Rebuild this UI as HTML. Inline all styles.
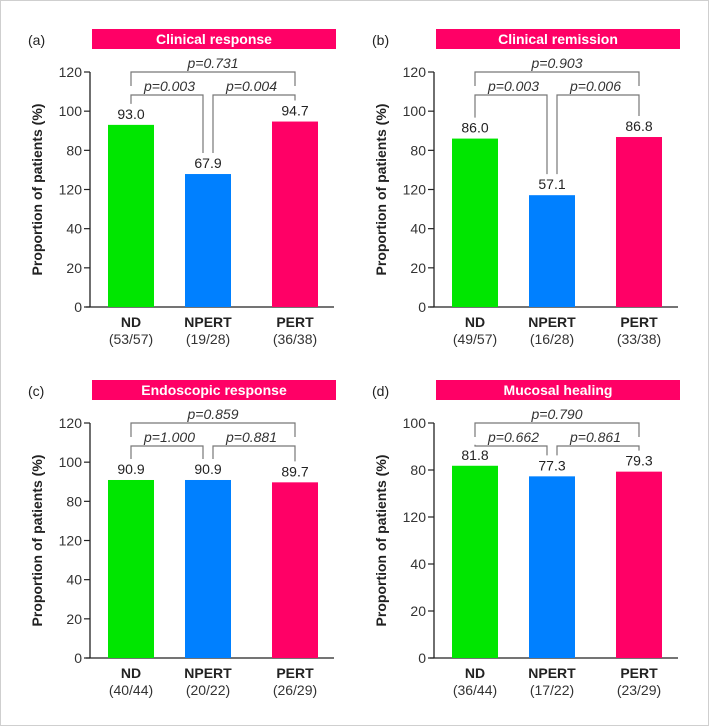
<!DOCTYPE html>
<html><head><meta charset="utf-8"><style>
body{margin:0;background:#fff;}
svg{display:block;font-family:"Liberation Sans","Noto Sans CJK JP",sans-serif;}
</style></head><body>
<svg id="fig" width="709" height="726">
<rect x="0.5" y="0.5" width="708" height="725" fill="#fff" stroke="#cfcfcf"/>
</svg>
<script>
const categories=["ND","NPERT","PERT"];
const colors=["#00e600","#0080ff","#ff0066"];
const titles=["Clinical response","Clinical remission","Endoscopic response","Mucosal healing"];
const panelLetters=["(a)","(b)","(c)","(d)"];
const valuesA=[93.0,67.9,94.7];
const valuesB=[86.0,57.1,86.8];
const valuesC=[90.9,90.9,89.7];
const valuesD=[81.8,77.3,79.3];
const countsA=["(53/57)","(19/28)","(36/38)"];
const countsB=["(49/57)","(16/28)","(33/38)"];
const countsC=["(40/44)","(20/22)","(26/29)"];
const countsD=["(36/44)","(17/22)","(23/29)"];
const pA=["p=0.003","p=0.004","p=0.731"];
const pB=["p=0.003","p=0.006","p=0.903"];
const pC=["p=1.000","p=0.881","p=0.859"];
const pD=["p=0.662","p=0.861","p=0.790"];
const ticks120=["0","20","40","120","80","100","120"];
const ticksD=["0","20","40","120","80","100"];
const yMaxes=[120,120,120,100];

const NS="http://www.w3.org/2000/svg";
const svg=document.getElementById('fig');
function mk(tag,attrs,parent,text){const e=document.createElementNS(NS,tag);for(const k in attrs)e.setAttribute(k,attrs[k]);if(text!==undefined)e.textContent=text;(parent||svg).appendChild(e);return e;}

const panels=[
 {ox:0,oy:0,vals:valuesA,counts:countsA,p:pA,ticks:ticks120},
 {ox:344,oy:0,vals:valuesB,counts:countsB,p:pB,ticks:ticks120},
 {ox:0,oy:351,vals:valuesC,counts:countsC,p:pC,ticks:ticks120},
 {ox:344,oy:351,vals:valuesD,counts:countsD,p:pD,ticks:ticksD}
];
panels.forEach((P,i)=>{
 const g=mk('g',{transform:`translate(${P.ox},${P.oy})`});
 
 
 const yMax=yMaxes[i];
 const y0=307,y1=72+ (i===3?0:0);
 const top=i===3?72:72;
 const y=v=>y0-(v/yMax)*(y0-top);
 const axX=90;
 const barX=[108,185,272],bw=46;
 const cx=k=>barX[k]+bw/2;
 const L=mk('text',{x:28,y:45,'font-size':14,fill:'#222'},g,panelLetters[i]);
 
 
 const tb=mk('rect',{x:92,y:29,width:244,height:20,fill:'#ff0066'},g);
 
 
 const tt=mk('text',{x:214,y:44,'font-size':14,'font-weight':'bold',fill:'#fff','text-anchor':'middle'},g,titles[i]);
 
 
 // axes
 const ya=mk('line',{x1:axX,y1:top,x2:axX,y2:y0,stroke:'#222','stroke-width':1.3},g);
 
 
 const xa=mk('line',{x1:axX-4,y1:y0,x2:334,y2:y0,stroke:'#222','stroke-width':1.3},g);
 
 
 P.ticks.forEach((t,k)=>{
  const v=k*20;const yy=y(v);
  const tl=mk('line',{x1:axX-6,y1:yy,x2:axX,y2:yy,stroke:'#222','stroke-width':1.2},g);
  
  
  const tx=mk('text',{x:axX-8,y:yy+5,'font-size':14,fill:'#333','text-anchor':'end'},g,t);
  
  
 });
 const yt=mk('text',{x:0,y:0,'font-size':14,'font-weight':'bold',fill:'#222','text-anchor':'middle',transform:`translate(42,${(top+y0)/2}) rotate(-90)`},g,'Proportion of patients (%)');
 
 
 P.vals.forEach((v,k)=>{
  const r=mk('rect',{x:barX[k],y:y(v),width:bw,height:y0-y(v),fill:colors[k]},g);
  
  
  const vl=mk('text',{x:cx(k),y:y(v)-6,'font-size':14,fill:'#222','text-anchor':'middle'},g,v.toFixed(1));
  
  
  const cl=mk('text',{x:cx(k),y:y0+20,'font-size':14,'font-weight':'bold',fill:'#222','text-anchor':'middle'},g,categories[k]);
  
  
  const nl=mk('text',{x:cx(k),y:y0+37,'font-size':14,fill:'#333','text-anchor':'middle'},g,P.counts[k]);
  
  
 });
 // brackets
 const ob=top, ib=top+23;
 const leg=k=>y(P.vals[k])-21;
 const st={fill:'none',stroke:'#777','stroke-width':1.2};
 const b1=mk('path',Object.assign({d:`M${cx(0)},${ob+14}V${ob}H${cx(2)}V${ob+14}`},st),g);
 
 
 const b2=mk('path',Object.assign({d:`M${cx(0)},${leg(0)}V${ib}H${cx(1)-5}V${leg(1)}`},st),g);
 
 
 const b3=mk('path',Object.assign({d:`M${cx(1)+5},${leg(1)}V${ib}H${cx(2)}V${leg(2)}`},st),g);
 
 
 const pt=[[ (cx(0)+cx(1))/2,ib-4,P.p[0]],[(cx(1)+cx(2))/2,ib-4,P.p[1]],[(cx(0)+cx(2))/2,ob-4,P.p[2]]];
 pt.forEach(q=>{
  const e=mk('text',{x:q[0],y:q[1],'font-size':14,'font-style':'italic',fill:'#333','text-anchor':'middle'},g,q[2]);
  
  
 });
});
</script>
</body></html>
